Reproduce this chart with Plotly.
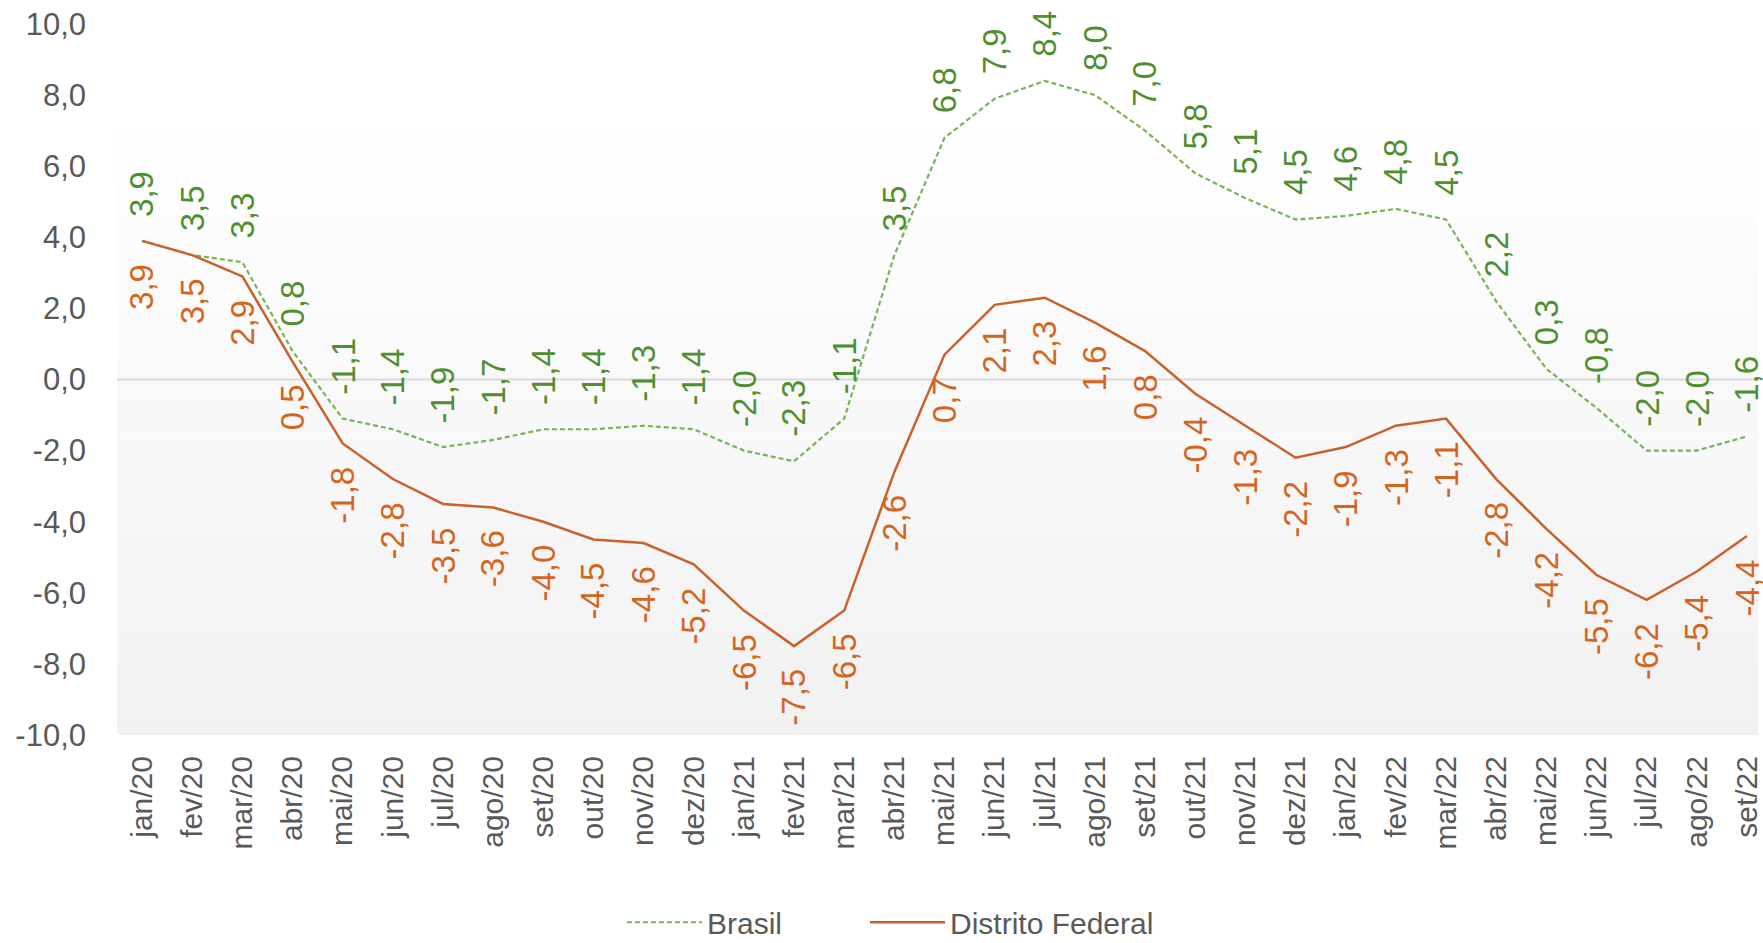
import plotly.graph_objects as go

months = ["jan/20","fev/20","mar/20","abr/20","mai/20","jun/20","jul/20","ago/20","set/20","out/20","nov/20","dez/20",
          "jan/21","fev/21","mar/21","abr/21","mai/21","jun/21","jul/21","ago/21","set/21","out/21","nov/21","dez/21",
          "jan/22","fev/22","mar/22","abr/22","mai/22","jun/22","jul/22","ago/22","set/22"]
brasil = [3.9,3.5,3.3,0.8,-1.1,-1.4,-1.9,-1.7,-1.4,-1.4,-1.3,-1.4,
          -2.0,-2.3,-1.1,3.5,6.8,7.9,8.4,8.0,7.0,5.8,5.1,4.5,
          4.6,4.8,4.5,2.2,0.3,-0.8,-2.0,-2.0,-1.6]
df = [3.9,3.5,2.9,0.5,-1.8,-2.8,-3.5,-3.6,-4.0,-4.5,-4.6,-5.2,
      -6.5,-7.5,-6.5,-2.6,0.7,2.1,2.3,1.6,0.8,-0.4,-1.3,-2.2,
      -1.9,-1.3,-1.1,-2.8,-4.2,-5.5,-6.2,-5.4,-4.4]
yticks = [10,8,6,4,2,0,-2,-4,-6,-8,-10]

GREEN_LINE = "#78b356"
GREEN_TXT = "#4f8f2f"
ORANGE_LINE = "#c9622a"
ORANGE_TXT = "#d4651f"
FONT = "Liberation Sans, Arial, sans-serif"

def fmt(v):
    return f"{v:.1f}".replace(".", ",")

fig = go.Figure()
fig.add_trace(go.Scatter(x=months, y=brasil, mode="lines", name="Brasil", legend="legend",
                         line=dict(color=GREEN_LINE, width=2.2, dash="5px,3px")))
fig.add_trace(go.Scatter(x=months, y=df, mode="lines", name="Distrito Federal", legend="legend2",
                         line=dict(color=ORANGE_LINE, width=2.5)))

# gradient background strips
n = 40
shapes = []
for i in range(n):
    y0 = -10 + 20 * i / n
    y1 = -10 + 20 * (i + 1) / n
    t = (i + 0.5) / n  # 0 bottom, 1 top
    g = round(241 + (255 - 241) * min(1.0, t * 1.15))
    shapes.append(dict(type="rect", xref="paper", yref="y", x0=0, x1=1, y0=y0, y1=y1,
                       fillcolor=f"rgb({g},{g},{g})", line=dict(width=0), layer="below"))
shapes.append(dict(type="line", xref="paper", yref="y", x0=0, x1=1, y0=0, y1=0,
                   line=dict(color="#d9d9d9", width=2), layer="below"))

annotations = []
for m, b, d in zip(months, brasil, df):
    annotations.append(dict(x=m, y=b, xref="x", yref="y", text=fmt(b), showarrow=False,
                            textangle=-90, yanchor="bottom", xanchor="center", yshift=22,
                            font=dict(family=FONT, size=33, color=GREEN_TXT)))
    annotations.append(dict(x=m, y=d, xref="x", yref="y", text=fmt(d), showarrow=False,
                            textangle=-90, yanchor="top", xanchor="center", yshift=-21,
                            font=dict(family=FONT, size=33, color=ORANGE_TXT)))

leg_common = dict(orientation="h", xref="container", yref="container", y=0.022,
                  xanchor="left", yanchor="middle", font=dict(size=30, color="#595959"),
                  itemwidth=75, bgcolor="rgba(0,0,0,0)")
fig.update_layout(
    width=1763, height=943,
    margin=dict(l=117, r=0, t=24, b=208),
    paper_bgcolor="white", plot_bgcolor="white",
    font=dict(family=FONT, size=27, color="#595959"),
    shapes=shapes, annotations=annotations,
    showlegend=True,
    legend=dict(x=622 / 1763, **leg_common),
    legend2=dict(x=865 / 1763, **leg_common),
)
fig.update_xaxes(type="category", range=[-0.5, 32.22], showgrid=False, zeroline=False,
                 showline=False, tickangle=-90, ticks="", ticklabelstandoff=14,
                 tickfont=dict(size=30, color="#595959"))
fig.update_yaxes(range=[-10, 10], tickvals=yticks, ticktext=[fmt(v) for v in yticks],
                 showgrid=False, zeroline=False, showline=False, ticks="",
                 ticklabelstandoff=30, tickfont=dict(size=31, color="#595959"))

fig.write_html("out.html", config={"displayModeBar": False},
               post_script="document.body.style.margin='0';document.body.style.overflow='hidden';")
